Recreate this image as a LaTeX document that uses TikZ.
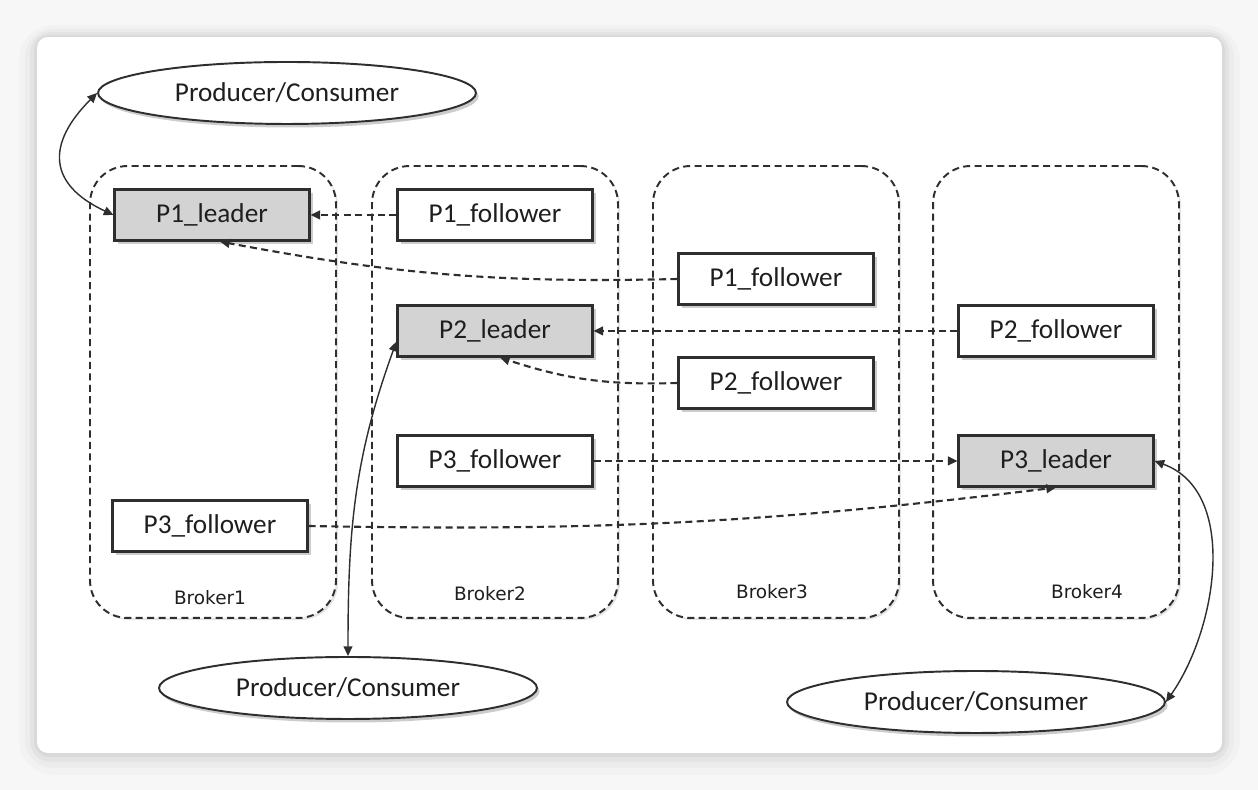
\documentclass[tikz,border=0pt]{standalone}
\usepackage{fontspec}
\setmainfont{Carlito}
\newfontfamily\tagfont{DejaVu Sans}
\usepackage{xcolor}
\definecolor{lineGray}{HTML}{2E2E2E}
\definecolor{textGray}{HTML}{1E1E1E}
\definecolor{leaderGray}{HTML}{D3D3D3}
\definecolor{pageGray}{HTML}{F7F7F7}
\usetikzlibrary{calc, positioning, shapes.geometric, arrows.meta, shadows}

\begin{document}
\begin{tikzpicture}[
        x=0.02cm, y=0.02cm,
        broker/.style={draw=lineGray, fill=white, line width=1.1pt, dash pattern=on 4pt off 2.5pt, rounded corners=0.75cm,
          minimum width=4.92cm, minimum height=9.04cm, drop shadow={shadow xshift=1.2pt, shadow yshift=-1.2pt, opacity=0.2}},
        part/.style={draw=lineGray, fill=white, line width=1.2pt, text=textGray, font=\fontsize{15.5}{18}\selectfont,
          minimum width=3.9cm, minimum height=1.02cm, drop shadow={shadow xshift=2pt, shadow yshift=-2pt, opacity=0.4}},
        leader/.style={part, fill=leaderGray},
        client/.style={ellipse, draw=lineGray, fill=white, line width=1.1pt, text=textGray, font=\fontsize{15.5}{18}\selectfont,
          minimum width=7.56cm, minimum height=1.24cm, drop shadow={shadow xshift=1.5pt, shadow yshift=-2pt, opacity=0.4}},
        tag/.style={text=textGray, font=\tagfont\fontsize{10.5}{12}\selectfont},
        repl/.style={draw=lineGray, line width=1.2pt, dash pattern=on 4pt off 2.5pt, -{Triangle[length=5.5pt, width=5pt]}},
        link/.style={draw=lineGray, line width=0.8pt, {Triangle[length=5.5pt, width=5pt]}-{Triangle[length=5.5pt, width=5pt]}}
      ]
        \useasboundingbox (0,0) rectangle (1258,790);
        % page and card
        \fill[pageGray] (0,0) rectangle (1258,790);
        \fill[black, opacity=0.02, rounded corners=20pt] (19,15) rectangle (1240,765);
        \fill[black, opacity=0.025, rounded corners=16pt] (25,22) rectangle (1234,761);
        \fill[black, opacity=0.035, rounded corners=12pt] (30,28) rectangle (1229,758);
        \fill[black, opacity=0.045, rounded corners=9pt] (34,33) rectangle (1225,755);
        \node[fill=white, rounded corners=6pt, minimum width=23.7cm, minimum height=14.32cm] (card) at (629.5,395) {};

        % Brokers
        \node[broker] (b1) at (213,398) {};
        \node[broker] (b2) at (495,398) {};
        \node[broker] (b3) at (776,398) {};
        \node[broker] (b4) at (1056,398) {};
        \node[tag] (b1tag) at (210,192) {Broker1};
        \node[tag] (b2tag) at (490,196) {Broker2};
        \node[tag] (b3tag) at (772,198) {Broker3};
        \node[tag] (b4tag) at (1087,198) {Broker4};

        % Partitions
        \node[leader] (p1l) at (212,575) {P1\_leader};
        \node[part] (p1f2) at (495,575) {P1\_follower};
        \node[part] (p1f3) at (776,511) {P1\_follower};
        \node[leader] (p2l) at (495,459) {P2\_leader};
        \node[part] (p2f4) at (1056,459) {P2\_follower};
        \node[part] (p2f3) at (776,407) {P2\_follower};
        \node[part] (p3f2) at (495,329) {P3\_follower};
        \node[leader] (p3l) at (1056,329) {P3\_leader};
        \node[part] (p3f1) at (210,264) {P3\_follower};

        % Producers / consumers
        \node[client] (pc1) at (287,697) {Producer/Consumer};
        \node[client] (pc2) at (348,102) {Producer/Consumer};
        \node[client] (pc3) at (976,88) {Producer/Consumer};

        % replication
        \draw[repl] (p1f2) -- (p1l);
        \draw[repl] (p1f3.west) to[bend left=6] ($(p1l.south)+(8,0)$);
        \draw[repl] (p2f4) -- (p2l);
        \draw[repl] (p2f3.west) to[bend left=10] ($(p2l.south)+(5,0)$);
        \draw[repl] (p3f2) -- (p3l);
        \draw[repl] (p3f1.east) to[bend right=4] (p3l.south);

        % client links
        \draw[link] (pc1.west) to[out=225, in=155, looseness=1.5] (p1l.west);
        \draw[link] (pc2.north) to[out=90, in=250] ($(p2l.south west)+(0,16)$);
        \draw[link] (p3l.east) to[out=-20, in=55, looseness=0.95] (pc3.east);
      \end{tikzpicture}
\end{document}
